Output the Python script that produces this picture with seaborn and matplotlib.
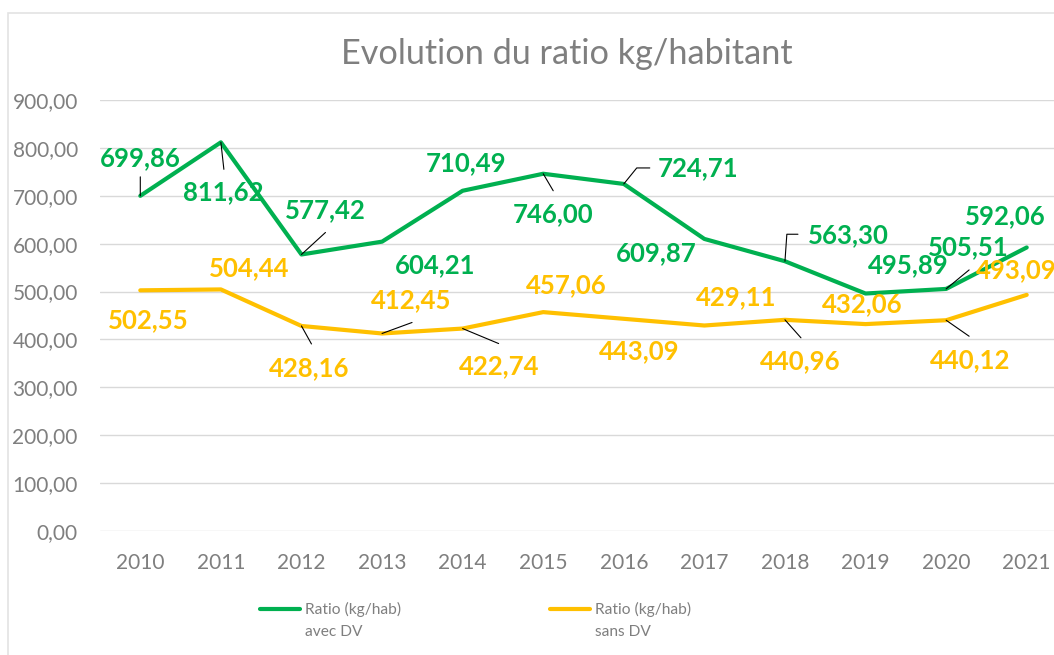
import numpy as np
import pandas as pd
import matplotlib
matplotlib.use("Agg")
import matplotlib.pyplot as plt
from matplotlib.lines import Line2D
from matplotlib.patches import Rectangle
from matplotlib.ticker import FuncFormatter
import seaborn as sns


# ── Data ──────────────────────────────────────────────────────────────────────
YEARS = [2010, 2011, 2012, 2013, 2014, 2015, 2016, 2017, 2018, 2019, 2020, 2021]
AVEC_DV = [699.86, 811.62, 577.42, 604.21, 710.49, 746.00,
           724.71, 609.87, 563.30, 495.89, 505.51, 592.06]
SANS_DV = [502.55, 504.44, 428.16, 412.45, 422.74, 457.06,
           443.09, 429.11, 440.96, 432.06, 440.12, 493.09]
SERIES = ["Ratio (kg/hab)\navec DV", "Ratio (kg/hab)\nsans DV"]
Y_TICKS = [0, 100, 200, 300, 400, 500, 600, 700, 800, 900]
TITLE = "Evolution du ratio kg/habitant"

# ── Style ─────────────────────────────────────────────────────────────────────
GREEN = "#00B050"
YELLOW = "#FFC000"
GREY = "#7F7F7F"
GRID = "#D9D9D9"
FONT = ["Lato", "DejaVu Sans"]

# label offsets in pixels (dx, dy) from each point, y upwards
OFFS_AVEC = [(0, 38), (2, -50), (24, 44), (53, -23), (3, 28), (10, -40),
             (74, 16), (-48, -14), (63, 26), (43, 28), (22, 42), (-21, 31)]
OFFS_SANS = [(8, -30), (28, 21), (8, -42), (29, 33), (37, -38), (23, 27),
             (15, -32), (32, 28), (15, -41), (-3, 20), (24, -40), (-10, 25)]

# leader lines: index -> (end offset, connection style)
LEAD_AVEC = {0: ((0, 19), "arc3"), 1: ((3, -27), "arc3"), 2: ((24, 22), "arc3"),
             5: ((10, -17), "arc3"),
             6: ((26, 16), "angle,angleA=0,angleB=51,rad=0"),
             8: ((13, 27), "angle,angleA=0,angleB=86,rad=0"),
             10: ((23, 19), "arc3")}
LEAD_SANS = {2: ((10, -18), "arc3"), 3: ((30, 11), "arc3"), 4: ((36, -15), "arc3"),
             8: ((16, -18), "arc3"), 10: ((23, -16), "arc3")}

# legend entries: left x of handle, in pixels
LEGEND_X = [260, 550]
LEGEND_Y = 609


def fmt(v):
    return f"{v:.2f}".replace(".", ",")


# ── Figure ────────────────────────────────────────────────────────────────────
sns.set_theme(style="white")
plt.rcParams["font.family"] = FONT

W, H = 1054, 655
fig = plt.figure(figsize=(W / 100, H / 100), dpi=100)
ax = fig.add_axes([100 / W, 1 - 531 / H, (1067 - 100) / W, (531 - 100) / H])

# chart border (Excel chart area)
fig.add_artist(Rectangle((8 / W, -0.1), 1.2, 1 - 13 / H + 0.1, transform=fig.transFigure,
                         fill=False, edgecolor="#E3E3E3", lw=1.2))

df = pd.DataFrame({
    "year": YEARS * 2,
    "value": AVEC_DV + SANS_DV,
    "series": [SERIES[0]] * len(YEARS) + [SERIES[1]] * len(YEARS),
})
sns.lineplot(data=df, x="year", y="value", hue="series",
             palette={SERIES[0]: GREEN, SERIES[1]: YELLOW},
             linewidth=3, legend=False, ax=ax, zorder=3)

ax.set_xlim(YEARS[0] - 0.5, YEARS[-1] + 0.5)
ax.set_ylim(0, 900)
ax.set_xticks(YEARS)
ax.set_yticks(Y_TICKS)
ax.yaxis.set_major_formatter(FuncFormatter(lambda v, p: fmt(v)))
ax.set_xlabel("")
ax.set_ylabel("")
ax.grid(axis="y", color=GRID, lw=1)
ax.grid(axis="x", visible=False)
for s in ax.spines.values():
    s.set_visible(False)
ax.tick_params(axis="y", length=0, pad=16, labelsize=15, labelcolor=GREY)
ax.tick_params(axis="x", length=0, pad=16, labelsize=15, labelcolor=GREY)

fig.text(567 / W, 1 - 54 / H, TITLE, ha="center", va="center",
         fontsize=24.7, color=GREY)


# ── Data labels ───────────────────────────────────────────────────────────────
def add_labels(values, offsets, leaders, color):
    for i, (yr, v) in enumerate(zip(YEARS, values)):
        ax.annotate(fmt(v), xy=(yr, v), xytext=offsets[i], textcoords="offset pixels",
                    ha="center", va="center", fontsize=18.5, fontweight="bold",
                    color=color, zorder=5, annotation_clip=False)
        if i in leaders:
            end, style = leaders[i]
            ax.annotate("", xy=(yr, v), xytext=end, textcoords="offset pixels",
                        arrowprops=dict(arrowstyle="-", color="black", lw=0.8,
                                        shrinkA=0, shrinkB=0, connectionstyle=style),
                        zorder=4, annotation_clip=False)


add_labels(AVEC_DV, OFFS_AVEC, LEAD_AVEC, GREEN)
add_labels(SANS_DV, OFFS_SANS, LEAD_SANS, YELLOW)

# ── Legend (handle level with the first text line, like Excel) ───────────────
for x0, label, color in zip(LEGEND_X, SERIES, [GREEN, YELLOW]):
    fig.add_artist(Line2D([x0 / W, (x0 + 40) / W], [1 - LEGEND_Y / H] * 2,
                          transform=fig.transFigure, color=color, lw=3,
                          solid_capstyle="round"))
    for k, line in enumerate(label.split("\n")):
        fig.text((x0 + 45) / W, 1 - (LEGEND_Y + 23.5 * k) / H, line,
                 ha="left", va="center", fontsize=11.2, color=GREY)

fig.savefig("out.png", dpi=100)
